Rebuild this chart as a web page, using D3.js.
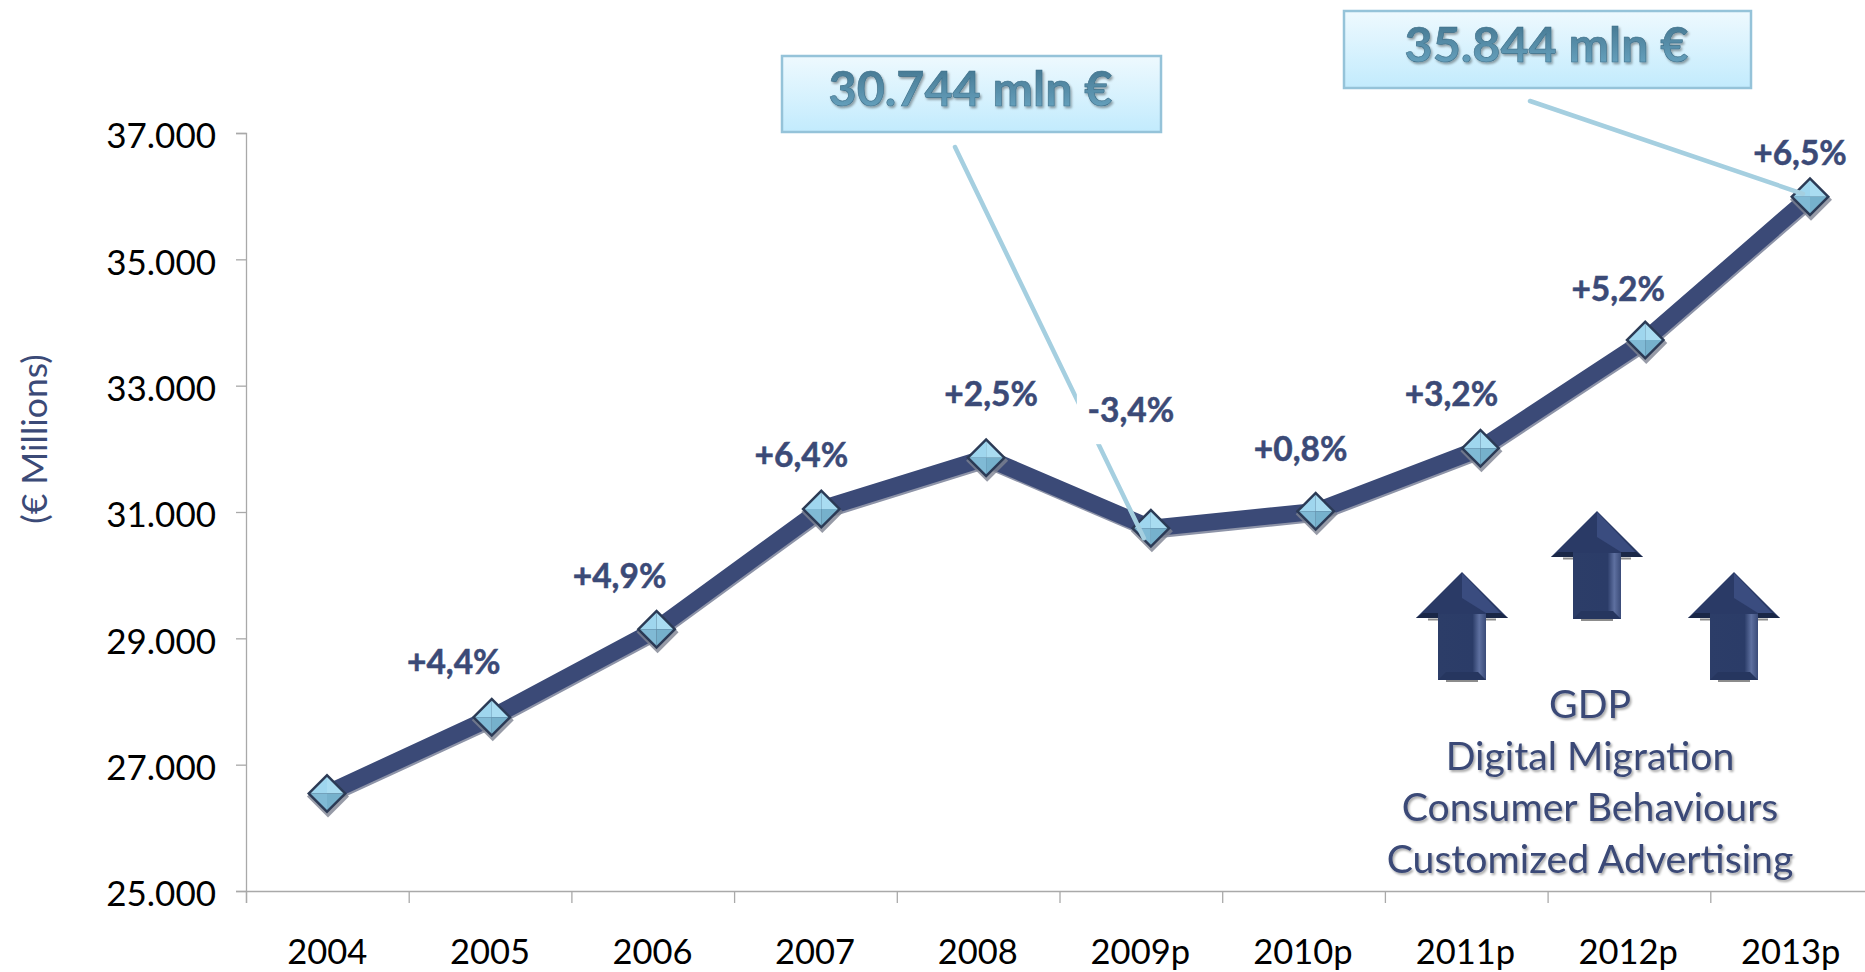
<!DOCTYPE html>
<html><head><meta charset="utf-8">
<script src="https://cdn.jsdelivr.net/npm/d3@7/dist/d3.min.js"></script>
<style>html,body{margin:0;padding:0;background:#fff;overflow:hidden}svg{display:block}text{font-family:Lato,Carlito,sans-serif}</style>
</head><body><svg id="c" width="1865" height="972"></svg>
<script>
const years = ["2004","2005","2006","2007","2008","2009p","2010p","2011p","2012p","2013p"];
const revenue = [26545,27750,29145,31047,31860,30744,31010,32008,33723,35990];
const growthLabels = [null,"+4,4%","+4,9%","+6,4%","+2,5%","-3,4%","+0,8%","+3,2%","+5,2%","+6,5%"];
const yTicks = [25000,27000,29000,31000,33000,35000,37000];
const driverLines = ["GDP","Digital Migration","Consumer Behaviours","Customized Advertising"];
const calloutLabels = ["30.744 mln €","35.844 mln €"];

const navy="#3b4a77";
const svg=d3.select("#c");
const defs=svg.append("defs");
const fmt=d3.formatLocale({decimal:",",thousands:".",grouping:[3],currency:["","€"]}).format(",d");

const y=d3.scaleLinear().domain([25000,37000]).range([891,133]);
const xBand=d3.scaleBand().domain(years).range([246,1872]);
const xTick=d3.scaleLinear().domain([0,10]).range([246,1873]);
const xPt=d3.scalePoint().domain(years).range([327,1810]);

// gradients & filters
const g1=defs.append("linearGradient").attr("id","box").attr("x2",0).attr("y2",1);
g1.append("stop").attr("offset",0).attr("stop-color","#eef9fe");
g1.append("stop").attr("offset",1).attr("stop-color","#c2ebfd");
const g2=defs.append("linearGradient").attr("id","ctext").attr("x2",0).attr("y2",1);
g2.append("stop").attr("offset",0).attr("stop-color","#3f6f88");
g2.append("stop").attr("offset",1).attr("stop-color","#6ca9c6");
const f=defs.append("filter").attr("id","ts").attr("x","-5%").attr("y","-10%").attr("width","110%").attr("height","125%");
f.append("feDropShadow").attr("dx",1.5).attr("dy",2).attr("stdDeviation",0.8).attr("flood-color","#000").attr("flood-opacity",0.35);

// axes
const ay=svg.append("g").attr("transform","translate(246,0)")
  .call(d3.axisLeft(y).tickValues(yTicks).tickFormat(fmt).tickSize(10).tickPadding(20));
ay.selectAll("text").attr("font-size",35).attr("fill","#000").attr("dy","0.42em");
const ax=svg.append("g").attr("transform","translate(0,891)")
  .call(d3.axisBottom(xTick).tickValues(d3.range(10)).tickFormat("").tickSize(12));
const axL=svg.append("g").attr("transform","translate(0,891)")
  .call(d3.axisBottom(xBand).tickSize(0).tickPadding(49));
axL.select(".domain").remove();
axL.selectAll("text").attr("font-size",34.5).attr("fill","#000");
svg.selectAll(".domain,.tick line").attr("stroke","#a9a9a9").attr("stroke-width",1.3);

// y title
svg.append("text").attr("transform","translate(38,439) rotate(-90)").attr("text-anchor","middle")
  .attr("dominant-baseline","middle").attr("font-size",35.5).attr("fill",navy).text("(€ Millions)");

// line
const line=d3.line().x((d,i)=>xPt(years[i])).y(d=>y(d));
svg.append("path").datum(revenue).attr("d",line).attr("fill","none").attr("stroke","#8e94a8").attr("stroke-width",17).attr("transform","translate(1,2)").attr("stroke-linejoin","round");
svg.append("path").datum(revenue).attr("d",line).attr("fill","none").attr("stroke",navy).attr("stroke-width",17).attr("stroke-linejoin","miter");

// callout leaders
const calloutIdx=[5,9];
const leaders=[[955,147],[1530,101]];
const leaderEnd=[[-7,10],[-7,-3]];

// markers
const r=20;
const mk=svg.append("g").selectAll("g").data(revenue).join("g")
  .attr("transform",(d,i)=>`translate(${xPt(years[i])},${y(d)})`);
mk.append("path").attr("d",`M0,${-r-1}L${r+1},0L0,${r+1}L${-r-1},0Z`).attr("transform","translate(1,3)").attr("fill","#7d8291").attr("opacity",.8);
mk.append("path").attr("d",`M0,${-r}L${r},0L0,${r}L${-r},0Z`).attr("fill","#2b3a55");
const q=r-3.5;
[["#a9dcf1",[0,-q],[q,0]],["#9fd6ee",[0,-q],[-q,0]],["#76b1cc",[0,q],[q,0]],["#80bad5",[0,q],[-q,0]]].forEach(([c,a,b])=>{
  mk.append("path").attr("d",`M0,0L${a}L${b}Z`).attr("fill",c);
});

calloutIdx.forEach((idx,k)=>{
  const [sx,sy]=leaders[k];
  const ex=xPt(years[idx])+leaderEnd[k][0], ey=y(revenue[idx])+leaderEnd[k][1];
  svg.append("line").attr("x1",sx).attr("y1",sy).attr("x2",ex).attr("y2",ey)
    .attr("stroke","#a5cfe0").attr("stroke-width",4.5).attr("stroke-linecap","round");
});

// growth labels
const labelOffset=[null,[-38,-52],[-37,-50],[-20,-51],[5,-60],[-20,-115],[-15,-59],[-29,-51],[-27,-48],[-10,-40]];
const lab=svg.append("g").selectAll("g").data(growthLabels.map((t,i)=>({t,i})).filter(d=>d.t)).join("g")
  .attr("transform",d=>`translate(${xPt(years[d.i])+labelOffset[d.i][0]},${y(revenue[d.i])+labelOffset[d.i][1]})`);
lab.filter(d=>d.i===5).append("rect").attr("x",-54).attr("y",-22).attr("width",108).attr("height",53).attr("fill","#fff");
lab.append("text").attr("text-anchor","middle").attr("dominant-baseline","middle").attr("font-size",33.5).attr("font-weight",700).attr("fill",navy).attr("stroke",navy).attr("stroke-width",.5).text(d=>d.t);

// callout boxes
const boxes=[[782,56,379,76],[1344,11,407,77]];
boxes.forEach((b,i)=>{
  svg.append("rect").attr("x",b[0]).attr("y",b[1]).attr("width",b[2]).attr("height",b[3])
    .attr("fill","url(#box)").attr("stroke","#95c3d9").attr("stroke-width",2.5);
  svg.append("text").attr("x",b[0]+b[2]/2-1).attr("y",b[1]+b[3]/2).attr("text-anchor","middle").attr("dominant-baseline","middle")
    .attr("font-size",48.5).attr("font-weight",700).attr("fill","url(#ctext)").attr("stroke","#3f6f88").attr("stroke-width",.6).attr("filter","url(#ts)").text(calloutLabels[i]);
});

// arrows
const arrowG=defs.append("linearGradient").attr("id","ar");
[[0,"#2c3d68"],[.72,"#2b3c68"],[.86,"#5e70a0"],[1,"#3a4b78"]].forEach(([o,c])=>arrowG.append("stop").attr("offset",o).attr("stop-color",c));
const arrows=[[1462,572,680],[1597,511,619],[1734,572,680]];
arrows.forEach(([cx,tip,bot])=>{
  const base=tip+46,hw=46,sw=24;
  const g=svg.append("g");
  g.append("path").attr("d",`M${cx-sw-10},${base+1.5}H${cx-sw}M${cx+sw},${base+1.5}H${cx+sw+10}M${cx-sw+8},${bot+.8}H${cx+sw-8}`).attr("stroke","#8c8c8c").attr("stroke-width",2.2);
  g.append("path").attr("d",`M${cx},${tip}L${cx+hw},${base}L${cx+sw},${base}L${cx+sw},${bot}L${cx-sw},${bot}L${cx-sw},${base}L${cx-hw},${base}Z`).attr("fill","#2a3a66");
  g.append("path").attr("d",`M${cx},${tip+1}L${cx+hw-6},${base-3}L${cx+sw},${base-5}L${cx},${tip+26}Z`).attr("fill","#3a4c7f");
  g.append("path").attr("d",`M${cx-hw},${base}L${cx-hw+7},${base-5}H${cx-sw}V${base}ZM${cx+hw},${base}L${cx+hw-7},${base-5}H${cx+sw}V${base}Z`).attr("fill","#1a2747");
  g.append("rect").attr("x",cx-sw).attr("y",base-4).attr("width",sw*2).attr("height",bot-base+4).attr("fill","url(#ar)");
  g.append("path").attr("d",`M${cx-sw},${bot}L${cx-sw+8},${bot-8}H${cx+sw-8}L${cx+sw},${bot}Z`).attr("fill","#26365f");
});

// driver text
svg.append("g").selectAll("text").data(driverLines).join("text")
  .attr("x",1590).attr("y",(d,i)=>718+i*51.6).attr("text-anchor","middle").attr("font-size",39.2).attr("fill",navy).attr("filter","url(#ts)").text(d=>d);
</script></body></html>
